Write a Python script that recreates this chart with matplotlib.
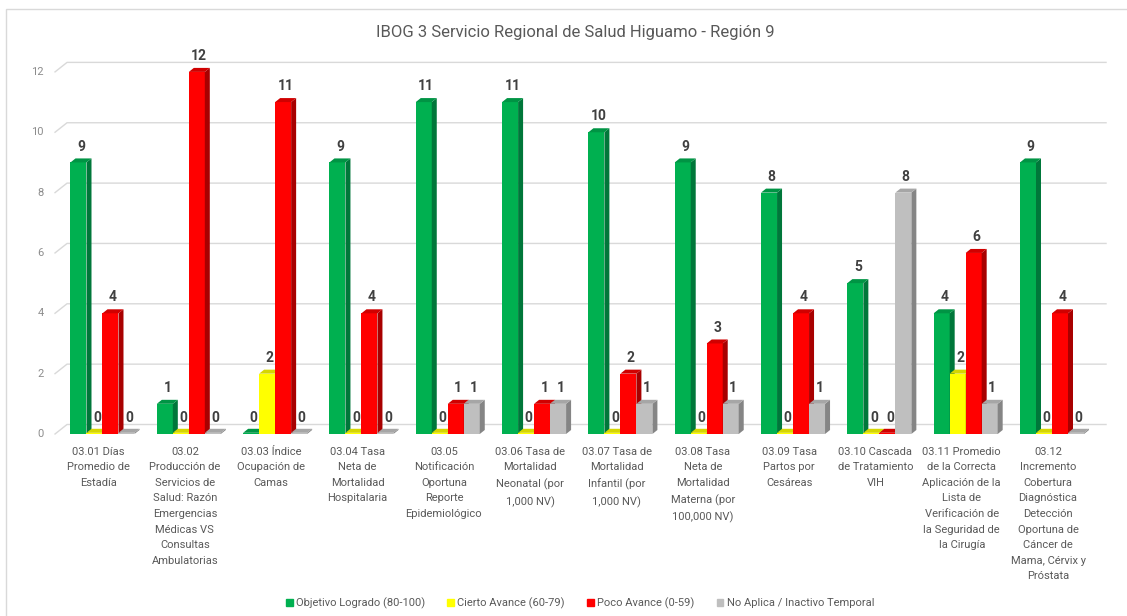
import numpy as np
import matplotlib
matplotlib.use("Agg")
import matplotlib.pyplot as plt
from matplotlib.patches import Polygon, Patch, Rectangle

plt.rcParams['font.family'] = ['Roboto', 'DejaVu Sans']

# data
categories = [
    "03.01 Días\nPromedio de\nEstadía",
    "03.02\nProducción de\nServicios de\nSalud: Razón\nEmergencias\nMédicas VS\nConsultas\nAmbulatorias",
    "03.03 Índice\nOcupación de\nCamas",
    "03.04 Tasa\nNeta de\nMortalidad\nHospitalaria",
    "03.05\nNotificación\nOportuna\nReporte\nEpidemiológico",
    "03.06 Tasa de\nMortalidad\nNeonatal (por\n1,000 NV)",
    "03.07 Tasa de\nMortalidad\nInfantil (por\n1,000 NV)",
    "03.08 Tasa\nNeta de\nMortalidad\nMaterna (por\n100,000 NV)",
    "03.09 Tasa\nPartos por\nCesáreas",
    "03.10 Cascada\nde Tratamiento\nVIH",
    "03.11 Promedio\nde la Correcta\nAplicación de la\nLista de\nVerificación de\nla Seguridad de\nla Cirugía",
    "03.12\nIncremento\nCobertura\nDiagnóstica\nDetección\nOportuna de\nCáncer de\nMama, Cérvix y\nPróstata",
]
objetivo = [9, 1, 0, 9, 11, 11, 10, 9, 8, 5, 4, 9]
cierto = [0, 0, 2, 0, 0, 0, 0, 0, 0, 0, 2, 0]
poco = [4, 12, 11, 4, 1, 1, 2, 3, 4, 0, 6, 4]
no_aplica = [0, 0, 0, 0, 1, 1, 1, 1, 1, 8, 1, 0]

series_names = ["Objetivo Logrado (80-100)", "Cierto Avance (60-79)",
                "Poco Avance (0-59)", "No Aplica / Inactivo Temporal"]
# front, side, top
colors = [("#00B050", "#00773A", "#009444"),
          ("#FFFF00", "#A8A800", "#D6D600"),
          ("#FF0000", "#A80000", "#D00000"),
          ("#BFBFBF", "#858585", "#A6A6A6")]

W, H = 1127, 616
fig = plt.figure(figsize=(W / 100, H / 100), dpi=100)
ax = fig.add_axes([40 / W, (H - 440) / H, 1070 / W, (440 - 53.8) / H])
ax.set_xlim(0.276, 12.672)
ax.set_ylim(-0.199, 12.60)
ax.axis('off')

px_x = 86.32   # pixels per category
px_y = 30.17   # pixels per unit
w = 16 / px_x
dx, dy = 5 / px_x, 4 / px_y          # bar depth
wx, wy = 12 / px_x, 9.5 / px_y       # back wall offset

x = np.arange(1, len(categories) + 1)

# gridlines on back wall with the floor diagonal on the left
for v in range(0, 13, 2):
    ax.plot([0.45, 0.45 + wx, 12.626], [v, v + wy, v + wy], color="#D9D9D9", lw=1, zorder=1)
    ax.text(0.322, v, str(v), ha='right', va='center', fontsize=8, color="#8C8C8C")

data = [objetivo, cierto, poco, no_aplica]
for k, vals in enumerate(data):
    front, side, top = colors[k]
    xs = x + (k - 1.5) * w
    hs = np.maximum(np.array(vals, dtype=float), 0.04)
    ax.bar(xs, hs, width=w, color=front, zorder=3 + k, linewidth=0)
    for xc, h, v in zip(xs, hs, vals):
        x0, x1 = xc - w / 2, xc + w / 2
        ax.add_patch(Polygon([(x1, 0), (x1 + dx, dy), (x1 + dx, h + dy), (x1, h)],
                             closed=True, fc=side, ec='none', zorder=3 + k + 0.1))
        ax.add_patch(Polygon([(x0, h), (x1, h), (x1 + dx, h + dy), (x0 + dx, h + dy)],
                             closed=True, fc=top, ec='none', zorder=3 + k + 0.2))
        ax.annotate(str(v), (xc + dx / 2, v + dy), xytext=(0, 3.5), textcoords='offset points',
                    ha='center', va='bottom', fontsize=10, fontweight='bold',
                    color="#404040", zorder=20)

for xc, lab in zip(x, categories):
    ax.text(xc - 0.045, -0.42, lab, ha='center', va='top', fontsize=8,
            color="#595959", linespacing=1.7)

fig.text(575 / W, 1 - 32 / H, "IBOG 3 Servicio Regional de Salud Higuamo - Región 9",
         ha='center', va='center', fontsize=12, color="#595959")

handles = [Patch(color=c[0]) for c in colors]
fig.legend(handles, series_names, loc='center', bbox_to_anchor=(580 / W, 1 - 603 / H),
           ncol=4, frameon=False, fontsize=8, labelcolor="#595959",
           handlelength=0.6, handleheight=0.6, handletextpad=0.3, columnspacing=2.0)

fig.add_artist(Rectangle((6 / W, -0.1), 1.2, 1 - 9 / H + 0.1, transform=fig.transFigure,
                         fill=False, ec="#D9D9D9", lw=1))

fig.savefig("out.png", dpi=100)
